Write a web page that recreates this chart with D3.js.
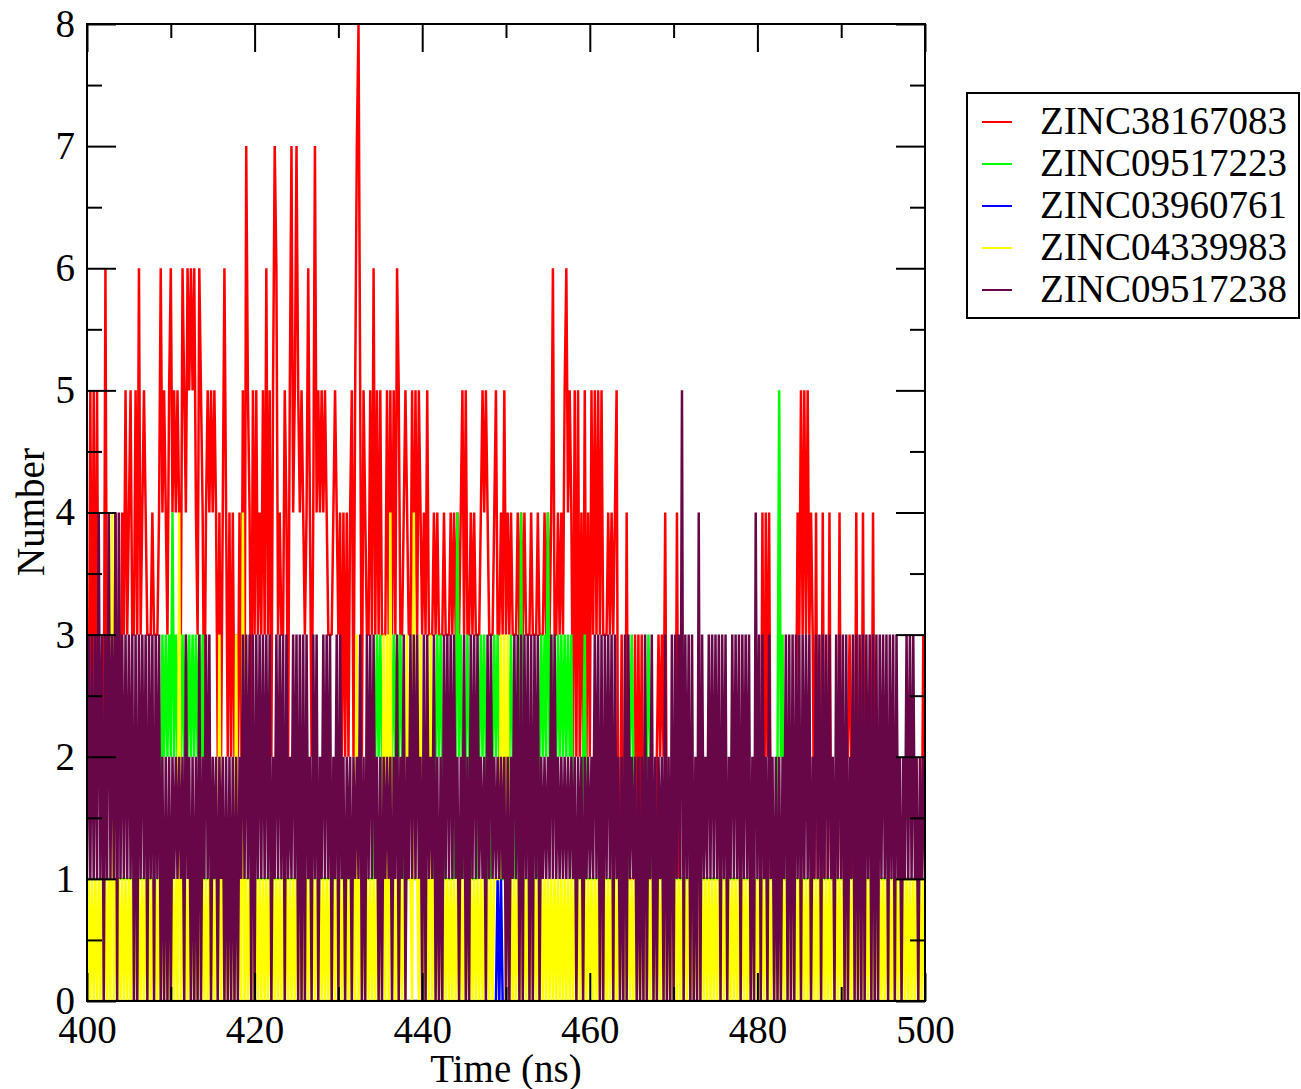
<!DOCTYPE html>
<html><head><meta charset="utf-8">
<script src="https://cdn.jsdelivr.net/npm/d3@7"></script>
<style>
html,body{margin:0;padding:0;background:#fff;}
svg{display:block;}
text{font-family:"Liberation Serif","Times New Roman",serif;fill:#000;}
</style></head><body>
<svg id="chart" width="1301" height="1089"></svg>
<script>
// ---- data (hydrogen-bond counts sampled every 0.2 ns, 400-500 ns) ----
const timeStart = 400;
const timeStep = 0.2;
const seriesNames = ["ZINC38167083","ZINC09517223","ZINC03960761","ZINC04339983","ZINC09517238"];
const seriesColors = ["#ff0000","#00ff00","#0000ff","#ffff00","#670748"];
const xMajorTicks = [400,420,440,460,480,500];
const xMinorTicks = [410,430,450,470,490];
const yMajorTicks = [0,1,2,3,4,5,6,7,8];
const yMinorTicks = [0.5,1.5,2.5,3.5,4.5,5.5,6.5,7.5];

// one string of digits per 10 ns (50 samples); last entry = value at 500 ns
const redCounts = [
 "22525252222622222422243534533536345433343334645435",
 "64545436546565643654245454542424642424232425275425",
 "35343536352576343354257457545434642474545454333454",
 "34242424525785254335363535333535353653345433535354",
 "34353334343334333434343453533434333454543334533435",
 "34343334343433343334333434346334343564542525242524",
 "25353535333434345113114111131313111111112323241111",
 "11411111111111111111111111111111111111111111111111",
 "11141424111111111111111243535353431411141114111114",
 "11122321141114111114111111111111111111111111111113",
 "1"
];
const greenCounts = [
 "11111111111111111111111111111111111111111111132323",
 "24232323232323232323111111111111111111111111111111",
 "11111111111111111111111111111111111111111111111111",
 "11111111111111111111112323211111232323211111111111",
 "11111111232321111111242321232111112323211123232111",
 "11232111141111111111232324232223232323231111112311",
 "11111111111111111111111123211111112321111111111111",
 "11111111111111111111111111111111111111111111111111",
 "11111111111125231111111111111111111111111111111111",
 "11111111111111111111111111111111111111111111111111",
 "1"
];
const blueCounts = [
 "00000000000000000000000000000000000000000000000000",
 "00000000000000000000000000000000000000000000000000",
 "00000000000000000000000000000000000000000000000000",
 "00000000000000000000000000000000000000000000000000",
 "00000000000000000000000000000000000000000000010100",
 "00000000000000000000000000000000000000000000000000",
 "00000000000000000000000000000000000000000000000000",
 "00000000000000000000000000000000000000000000000000",
 "00000000000000000000000000000000000000000000000000",
 "00000000000000000000000000000000000000000000000000",
 "0"
];
const yellowCounts = [
 "01010101010101040101010101010101010101010101010101",
 "01010401010101010101010101010301010101030104010101",
 "01010101010101010101010101010101010101010101010101",
 "01010101010301010101010101030304010101010311041103",
 "01010301010101010101010101010101010101010101111313",
 "03010101010101010101010101010101010101010101010101",
 "01010101010101010101010101010101010101010101010101",
 "01010101010101010101010101010101010101010101010101",
 "01010101010101010101010101010101010101010101010101",
 "01010101010101010101010101010101010101010101010101",
 "0"
];
const purpleCounts = [
 "13131314130314131404131313130303131303130313020202",
 "02121212031202020302131302120212020202020213131303",
 "03131313130213131303121313030303120313021313130213",
 "03120212021213020313131202021212021302130213131312",
 "03031213020203131313120213020313131212031312121212",
 "02021313030313030313021212131312121212121202120212",
 "12131303031313031202030312120202030213020212030203",
 "03131503130302040312131313130313021313130313130204",
 "13031203120202021303030313031313021313031313120313",
 "13030213030303031303030313130313031202131313120212",
 "1"
];
const allCounts = [redCounts, greenCounts, blueCounts, yellowCounts, purpleCounts];

// ---- layout ----
const FONT = "'Liberation Serif', 'Times New Roman', serif";
const svg = d3.select("#chart");
const plotLeft = 87, plotRight = 925, plotTop = 24, plotBottom = 1001;
const x = d3.scaleLinear().domain([400, 500]).range([plotLeft, plotRight]);
const y = d3.scaleLinear().domain([0, 8]).range([plotBottom, plotTop]);

svg.append("rect").attr("width",1301).attr("height",1089).attr("fill","#fff");

svg.append("defs").append("clipPath").attr("id","plotclip")
  .append("rect").attr("x",plotLeft).attr("y",plotTop-2)
  .attr("width",plotRight-plotLeft).attr("height",plotBottom-plotTop+2);

const parse = arr => arr.join("").replace(/\s/g,"").split("").map(Number);

const line = d3.line()
  .x((d,i) => x(timeStart + i*timeStep))
  .y(d => y(d));

const dataG = svg.append("g").attr("clip-path","url(#plotclip)");
allCounts.forEach((arr, s) => {
  const vals = parse(arr);
  dataG.append("path")
    .datum(vals)
    .attr("d", line)
    .attr("fill","none")
    .attr("stroke", seriesColors[s])
    .attr("stroke-width", 2.5)
    .attr("stroke-linejoin","bevel");
});

// ---- axes (ticks point inward on all four sides) ----
function styleAxis(g, labels) {
  g.select(".domain").remove();
  g.selectAll(".tick line").attr("stroke","#000").attr("stroke-width",2);
  g.selectAll(".tick text")
    .style("font-family", FONT)
    .style("font-size", labels ? "39px" : "0px")
    .attr("fill","#000");
}
const fmt = d3.format("d");
svg.append("g").attr("transform",`translate(0,${plotBottom})`)
  .call(d3.axisBottom(x).tickValues(xMajorTicks).tickSize(-28).tickPadding(14).tickFormat(fmt))
  .call(g => styleAxis(g, true));
svg.append("g").attr("transform",`translate(0,${plotBottom})`)
  .call(d3.axisBottom(x).tickValues(xMinorTicks).tickSize(-14).tickFormat(""))
  .call(g => styleAxis(g, false));
svg.append("g").attr("transform",`translate(0,${plotTop})`)
  .call(d3.axisTop(x).tickValues(xMajorTicks).tickSize(-28).tickFormat(""))
  .call(g => styleAxis(g, false));
svg.append("g").attr("transform",`translate(0,${plotTop})`)
  .call(d3.axisTop(x).tickValues(xMinorTicks).tickSize(-14).tickFormat(""))
  .call(g => styleAxis(g, false));
svg.append("g").attr("transform",`translate(${plotLeft},0)`)
  .call(d3.axisLeft(y).tickValues(yMajorTicks).tickSize(-29).tickPadding(12).tickFormat(fmt))
  .call(g => styleAxis(g, true));
svg.append("g").attr("transform",`translate(${plotLeft},0)`)
  .call(d3.axisLeft(y).tickValues(yMinorTicks).tickSize(-15).tickFormat(""))
  .call(g => styleAxis(g, false));
svg.append("g").attr("transform",`translate(${plotRight},0)`)
  .call(d3.axisRight(y).tickValues(yMajorTicks).tickSize(-29).tickFormat(""))
  .call(g => styleAxis(g, false));
svg.append("g").attr("transform",`translate(${plotRight},0)`)
  .call(d3.axisRight(y).tickValues(yMinorTicks).tickSize(-15).tickFormat(""))
  .call(g => styleAxis(g, false));

svg.append("rect").attr("x",plotLeft).attr("y",plotTop)
  .attr("width",plotRight-plotLeft).attr("height",plotBottom-plotTop)
  .attr("fill","none").attr("stroke","#000").attr("stroke-width",2);

// axis titles
svg.append("text").attr("x",(plotLeft+plotRight)/2).attr("y",1082)
  .attr("text-anchor","middle").style("font-family",FONT).style("font-size","39px").text("Time (ns)");
svg.append("text").attr("transform","translate(44,512) rotate(-90)")
  .attr("text-anchor","middle").style("font-family",FONT).style("font-size","39px").text("Number");

// legend
const legend = svg.append("g");
legend.append("rect").attr("x",967).attr("y",93).attr("width",332).attr("height",225)
  .attr("fill","#fff").attr("stroke","#000").attr("stroke-width",2);
seriesNames.forEach((name, k) => {
  legend.append("line").attr("x1",982).attr("x2",1012)
    .attr("y1",122+42*k).attr("y2",122+42*k)
    .attr("stroke",seriesColors[k]).attr("stroke-width",2);
  legend.append("text").attr("x",1040).attr("y",134+42*k)
    .style("font-family",FONT).style("font-size","39px").text(name);
});
</script>
</body></html>
